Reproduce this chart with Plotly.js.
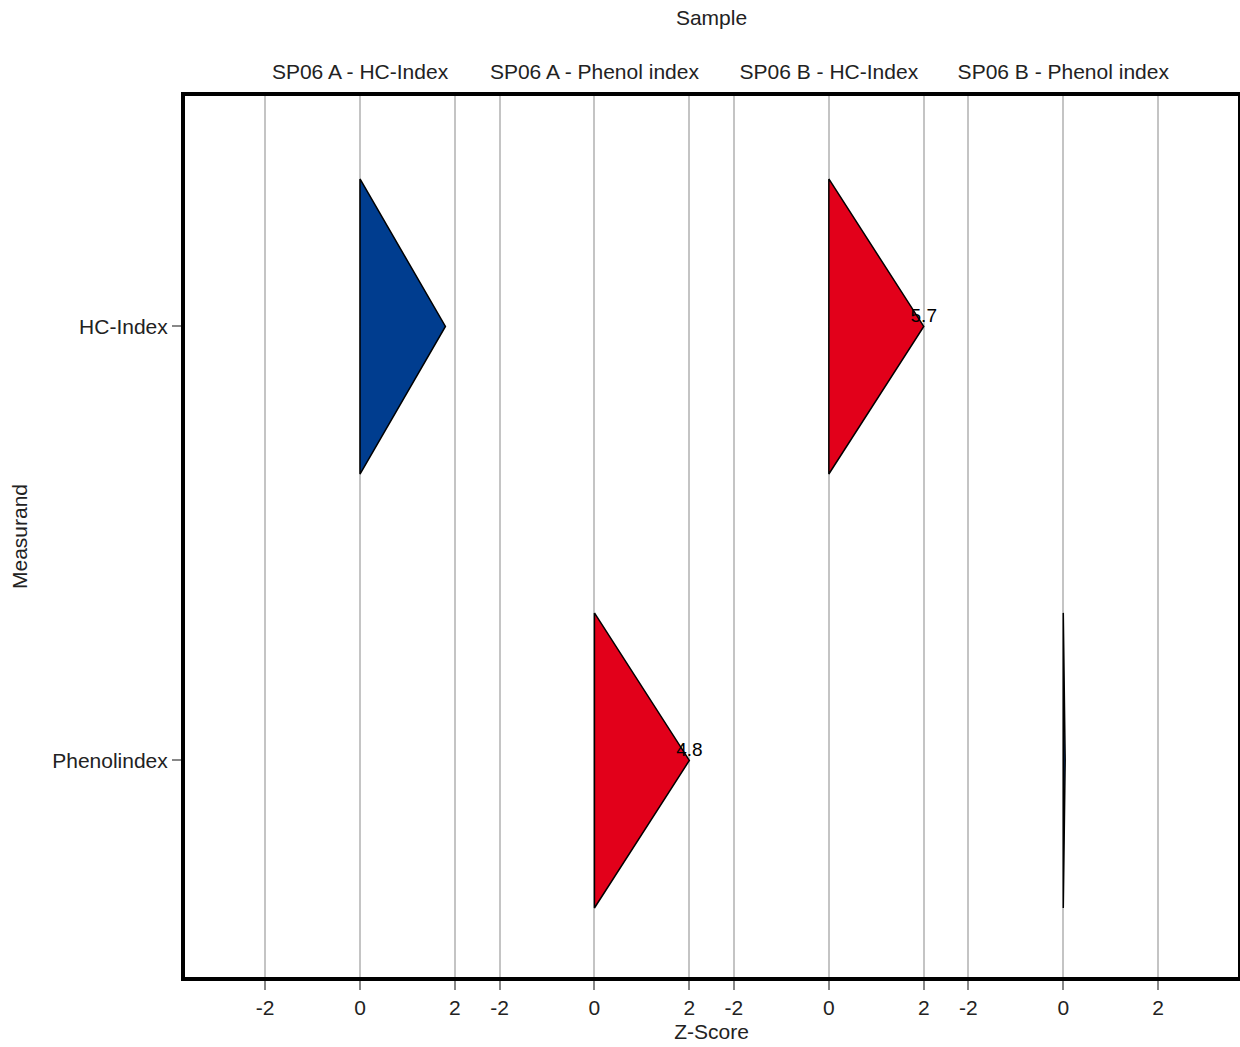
<!DOCTYPE html>
<html>
<head>
<meta charset="utf-8">
<script src="https://cdn.plot.ly/plotly-3.0.1.min.js"></script>
<style>html,body{margin:0;padding:0;background:#fff;}#chart{width:1240px;height:1047px;}</style>
</head>
<body>
<div id="chart"></div>
<script>
// Data
const samples = ["SP06 A - HC-Index", "SP06 A - Phenol index", "SP06 B - HC-Index", "SP06 B - Phenol index"];
const measurands = ["HC-Index", "Phenolindex", "HC-Index", "Phenolindex"];
const zScores = [1.8, 4.8, 5.7, 0.04];
const measurandOrder = ["HC-Index", "Phenolindex"];
const zTicks = [-2, 0, 2];

// Layout constants
const facetSpacing = 4.94;
const halfHeight = 0.34;
const clipLimit = 2;
const blue = "#003d8f";
const red = "#e2001a";
const font = "Liberation Sans, Arial, sans-serif";

const traces = [];
const labelX = [], labelY = [], labelText = [];
samples.forEach((s, i) => {
  const off = i * facetSpacing;
  const z = zScores[i];
  const zc = Math.max(-clipLimit, Math.min(clipLimit, z));
  const yc = measurandOrder.indexOf(measurands[i]);
  const out = Math.abs(z) > clipLimit;
  traces.push({
    type: "scatter", mode: "lines",
    x: [off, off + zc, off, off],
    y: [yc - halfHeight, yc, yc + halfHeight, yc - halfHeight],
    fill: "toself",
    fillcolor: out ? red : blue,
    line: {color: "#000", width: 1.5},
    hoverinfo: "skip", showlegend: false
  });
  if (out) {
    labelX.push(off + zc);
    labelY.push(yc);
    labelText.push(z.toFixed(1));
  }
});
traces.push({
  type: "scatter", mode: "text",
  x: labelX, y: labelY, text: labelText,
  textposition: "top center",
  textfont: {family: font, size: 19, color: "#000"},
  hoverinfo: "skip", showlegend: false
});

const tickVals = [], tickText = [];
samples.forEach((s, i) => {
  zTicks.forEach(t => { tickVals.push(i * facetSpacing + t); tickText.push(String(t)); });
});
const topVals = samples.map((s, i) => i * facetSpacing);

const xRange = [-3.688, 3 * facetSpacing + 3.682];

const layout = {
  width: 1240, height: 1047,
  margin: {l: 185, r: 2, t: 96, b: 70},
  paper_bgcolor: "#fff", plot_bgcolor: "#fff",
  font: {family: font, size: 21, color: "#222"},
  showlegend: false,
  xaxis: {
    range: xRange, tickmode: "array", tickvals: tickVals, ticktext: tickText,
    showgrid: true, gridcolor: "#c4c4c4", gridwidth: 2, zeroline: false,
    showline: true, linecolor: "#000", linewidth: 4, mirror: true,
    ticks: "outside", ticklen: 9, tickwidth: 2, tickcolor: "#888",
    tickfont: {size: 21, color: "#222"},
    title: {text: "Z-Score", font: {size: 21, color: "#222"}, standoff: 7}
  },
  xaxis2: {
    overlaying: "x", side: "top", range: xRange,
    tickmode: "array", tickvals: topVals, ticktext: samples,
    showgrid: false, zeroline: false, showline: false, ticks: "",
    ticklabelstandoff: 12,
    tickfont: {size: 21, color: "#222"},
    title: {text: "Sample", font: {size: 21, color: "#222"}, standoff: 28}
  },
  yaxis: {
    range: [1.499, -0.531], tickmode: "array", tickvals: [0, 1], ticktext: measurandOrder,
    showgrid: false, zeroline: false,
    showline: true, linecolor: "#000", linewidth: 4, mirror: true,
    ticks: "outside", ticklen: 9, tickwidth: 2, tickcolor: "#888",
    tickfont: {size: 21, color: "#222"},
    title: {text: "Measurand", font: {size: 21, color: "#222"}, standoff: 20}
  }
};

// invisible trace so the top axis is drawn
traces.push({type: "scatter", mode: "markers", x: [0], y: [0], xaxis: "x2", marker: {opacity: 0}, hoverinfo: "skip", showlegend: false});

Plotly.newPlot("chart", traces, layout, {displayModeBar: false, staticPlot: true});
</script>
</body>
</html>
